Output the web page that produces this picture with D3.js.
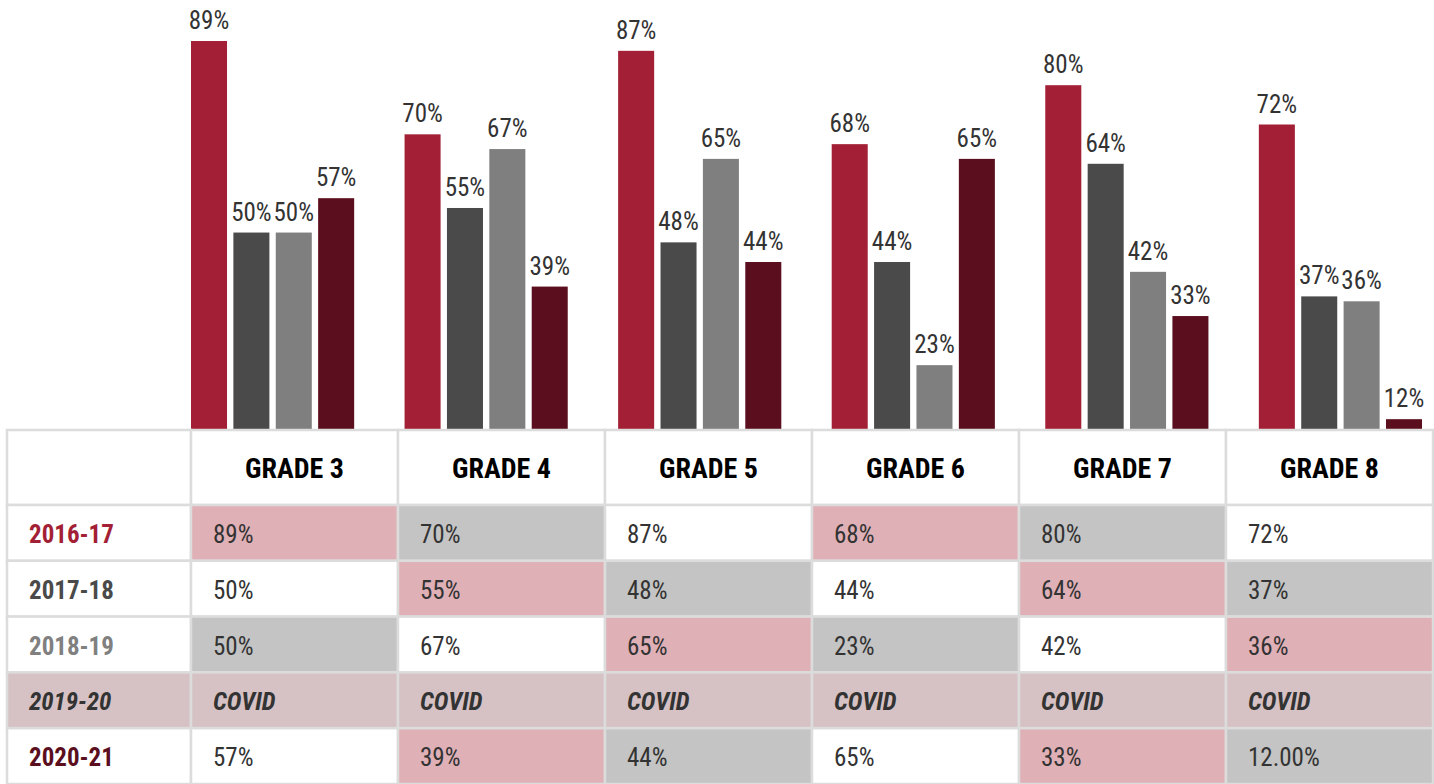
<!DOCTYPE html>
<html>
<head>
<meta charset="utf-8">
<script src="https://cdn.jsdelivr.net/npm/d3@7"></script>
<style>
  body { margin: 0; background: #fff; }
  svg text { font-family: "Roboto Condensed", "Liberation Sans Narrow", "DejaVu Sans Condensed", sans-serif; font-stretch: condensed; }
</style>
</head>
<body>
<svg id="svg" width="1434" height="784"></svg>
<script>
var grades = ["GRADE 3", "GRADE 4", "GRADE 5", "GRADE 6", "GRADE 7", "GRADE 8"];
var years = ["2016-17", "2017-18", "2018-19", "2019-20", "2020-21"];
var barYears = ["2016-17", "2017-18", "2018-19", "2020-21"];

var v2016 = [89, 70, 87, 68, 80, 72];
var v2017 = [50, 55, 48, 44, 64, 37];
var v2018 = [50, 67, 65, 23, 42, 36];
var v2020 = [57, 39, 44, 65, 33, 12];

// text shown in the table (2019-20 had no testing)
var tableText = {
  "2016-17": ["89%", "70%", "87%", "68%", "80%", "72%"],
  "2017-18": ["50%", "55%", "48%", "44%", "64%", "37%"],
  "2018-19": ["50%", "67%", "65%", "23%", "42%", "36%"],
  "2019-20": ["COVID", "COVID", "COVID", "COVID", "COVID", "COVID"],
  "2020-21": ["57%", "39%", "44%", "65%", "33%", "12.00%"]
};
// cell shading: p = pink, g = grey, w = white
var shading = {
  "2016-17": ["p", "g", "w", "p", "g", "w"],
  "2017-18": ["w", "p", "g", "w", "p", "g"],
  "2018-19": ["g", "w", "p", "g", "w", "p"],
  "2019-20": ["c", "c", "c", "c", "c", "c"],
  "2020-21": ["w", "p", "g", "w", "p", "g"]
};

var seriesColor = { "2016-17": "#a31f35", "2017-18": "#4a4a4a", "2018-19": "#7f7f7f", "2020-21": "#5b0f1e" };
var yearColor = { "2016-17": "#a31f35", "2017-18": "#4a4a4a", "2018-19": "#808080", "2019-20": "#333333", "2020-21": "#5b0f1e" };
var shadeColor = { p: "#e0b0b7", g: "#c4c4c4", w: "#ffffff", c: "#d6c2c5" };

var series = { "2016-17": v2016, "2017-18": v2017, "2018-19": v2018, "2020-21": v2020 };

var svg = d3.select("svg");

// ---- bar chart ----
var baseY = 429;
var x0 = d3.scaleBand().domain(grades).range([191, 1422]).paddingInner(0.236).paddingOuter(0);
var x1 = d3.scaleBand().domain(barYears).range([0, x0.bandwidth()]).paddingInner(0.15).paddingOuter(0);
var y = d3.scaleLinear().domain([10, 90]).range([baseY, 36.1]);

var groups = svg.append("g").selectAll("g")
  .data(grades)
  .enter().append("g")
  .attr("transform", function (d) { return "translate(" + x0(d) + ",0)"; });

var bars = groups.selectAll("g.bar")
  .data(function (g, i) { return barYears.map(function (yr) { return { year: yr, value: series[yr][i] }; }); })
  .enter().append("g").attr("class", "bar");

bars.append("rect")
  .attr("x", function (d) { return x1(d.year); })
  .attr("y", function (d) { return y(d.value); })
  .attr("width", x1.bandwidth())
  .attr("height", function (d) { return baseY - y(d.value); })
  .attr("fill", function (d) { return seriesColor[d.year]; });

bars.append("text")
  .attr("x", function (d) { return x1(d.year) + x1.bandwidth() / 2; })
  .attr("y", function (d) { return y(d.value) - 12; })
  .attr("text-anchor", "middle")
  .attr("font-size", 25)
  .attr("fill", "#333")
  .text(function (d) { return d.value + "%"; });

// ---- table ----
var tableLeft = 7, labelColRight = 191, tableRight = 1433;
var headTop = 430, headBottom = 505, tableBottom = 784;
var colX = d3.scaleBand().domain(grades).range([labelColRight, tableRight]);
var rowY = d3.scaleBand().domain(years).range([headBottom, tableBottom]);
var border = "#dcdcdc";

var table = svg.append("g");

// header row
table.append("rect")
  .attr("x", tableLeft).attr("y", headTop)
  .attr("width", labelColRight - tableLeft).attr("height", headBottom - headTop)
  .attr("fill", "#fff").attr("stroke", border).attr("stroke-width", 2.5);

var head = table.selectAll("g.head").data(grades).enter().append("g").attr("class", "head");
head.append("rect")
  .attr("x", function (d) { return colX(d); }).attr("y", headTop)
  .attr("width", colX.bandwidth()).attr("height", headBottom - headTop)
  .attr("fill", "#fff").attr("stroke", border).attr("stroke-width", 2.5);
head.append("text")
  .attr("x", function (d) { return colX(d) + colX.bandwidth() / 2; })
  .attr("y", (headTop + headBottom) / 2 + 10)
  .attr("text-anchor", "middle")
  .attr("font-size", 28).attr("font-weight", "bold").attr("fill", "#000")
  .text(function (d) { return d; });

// body rows
var rows = table.selectAll("g.row").data(years).enter().append("g").attr("class", "row");

rows.append("rect")
  .attr("x", tableLeft).attr("y", function (d) { return rowY(d); })
  .attr("width", labelColRight - tableLeft).attr("height", rowY.bandwidth())
  .attr("fill", function (d) { return d === "2019-20" ? shadeColor.c : "#fff"; })
  .attr("stroke", border).attr("stroke-width", 2.5);

rows.append("text")
  .attr("x", 29)
  .attr("y", function (d) { return rowY(d) + rowY.bandwidth() / 2 + 10; })
  .attr("font-size", 25).attr("font-weight", "bold")
  .attr("font-style", function (d) { return d === "2019-20" ? "italic" : "normal"; })
  .attr("fill", function (d) { return yearColor[d]; })
  .text(function (d) { return d; });

var cells = rows.selectAll("g.cell")
  .data(function (yr) { return grades.map(function (g, i) { return { year: yr, grade: g, text: tableText[yr][i], shade: shading[yr][i] }; }); })
  .enter().append("g").attr("class", "cell");

cells.append("rect")
  .attr("x", function (d) { return colX(d.grade); })
  .attr("y", function (d) { return rowY(d.year); })
  .attr("width", colX.bandwidth()).attr("height", rowY.bandwidth())
  .attr("fill", function (d) { return shadeColor[d.shade]; })
  .attr("stroke", border).attr("stroke-width", 2.5);

cells.append("text")
  .attr("x", function (d) { return colX(d.grade) + 22; })
  .attr("y", function (d) { return rowY(d.year) + rowY.bandwidth() / 2 + 10; })
  .attr("font-size", 25)
  .attr("font-weight", function (d) { return d.text === "COVID" ? "bold" : "normal"; })
  .attr("font-style", function (d) { return d.text === "COVID" ? "italic" : "normal"; })
  .attr("fill", "#333")
  .text(function (d) { return d.text; });
</script>
</body>
</html>
